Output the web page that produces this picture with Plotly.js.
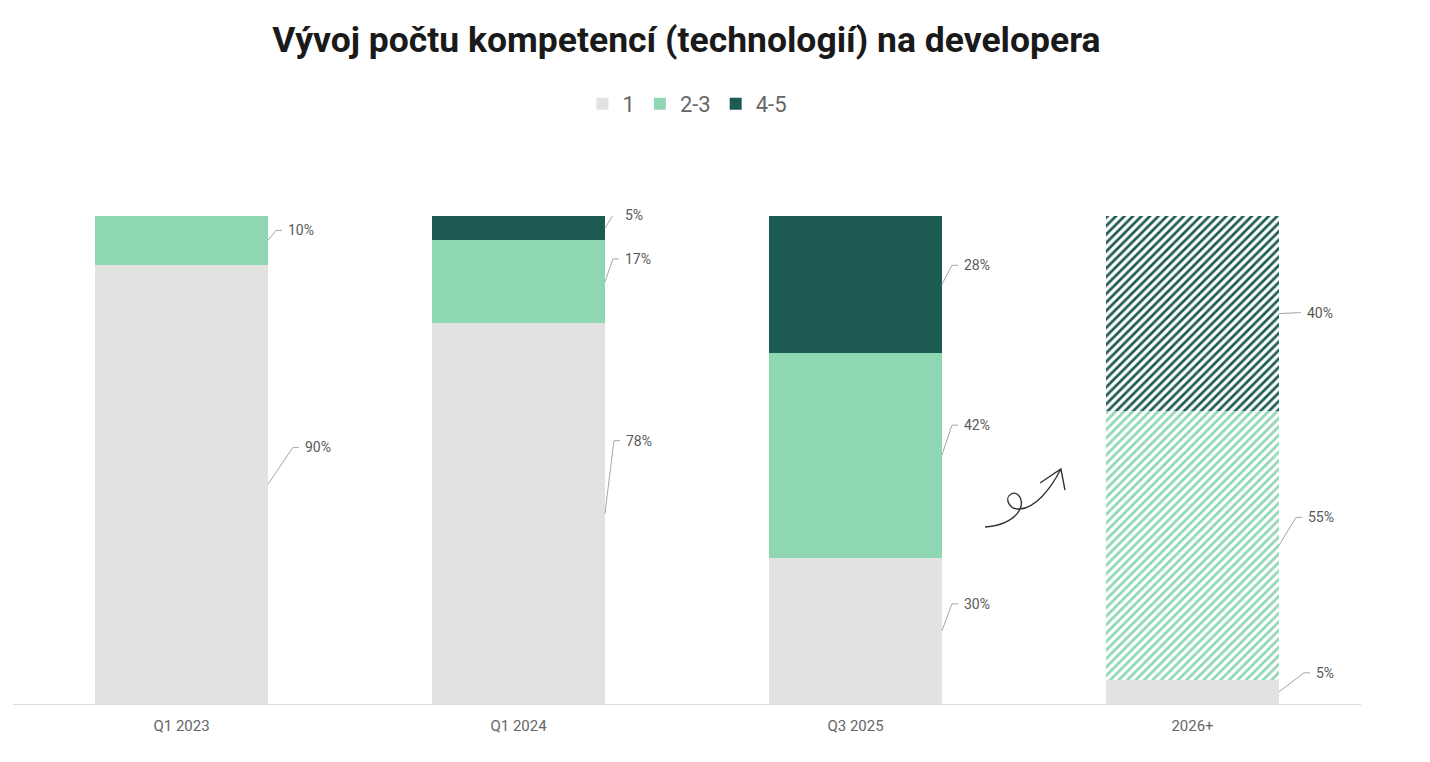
<!DOCTYPE html>
<html>
<head>
<meta charset="utf-8">
<script src="https://cdn.plot.ly/plotly-3.0.1.min.js"></script>
<style>
  html, body { margin: 0; padding: 0; background: #fff; }
  #chart { width: 1430px; height: 762px; }
</style>
</head>
<body>
<div id="chart"></div>
<script>
// data (share of developers, %)
var categories = ['Q1 2023', 'Q1 2024', 'Q3 2025', '2026+'];
var seriesNames = ['1', '2-3', '4-5'];
var oneTech = [90, 78, 30, 5];
var twoThreeTech = [10, 17, 42, 55];
var fourFiveTech = [null, 5, 28, 40];
var isForecast = [false, false, false, true];

var series = [oneTech, twoThreeTech, fourFiveTech];
var colors = ['#e2e2e0', '#8fd6b3', '#1d5a52'];

// label placement (pixels): how far the label sits above the segment middle,
// and how far the leader runs out sideways before turning flat
var labelLift = [[37, 73, 27, 19], [10, 23, 30, 28], [0, 13, 19, 1]];
var leaderRun = [[25, 9, 10, 25], [8, 8, 10, 17], [0, 8, 10, 16]];

var W = 1430, H = 762;
var margin = { l: 13, r: 69, t: 216, b: 58 };
var plotW = W - margin.l - margin.r;
var plotH = H - margin.t - margin.b;
var xRange = [-0.5, 3.5];
var yMax = 100;
var barWidth = 0.513;
var pxX = plotW / (xRange[1] - xRange[0]);   // pixels per category
var pxY = plotH / yMax;                      // pixels per percent

var traces = [];
series.forEach(function (vals, s) {
  traces.push({
    type: 'bar',
    name: seriesNames[s],
    x: categories.map(function (c, i) { return i; }),
    y: vals,
    width: barWidth,
    marker: {
      color: colors[s],
      line: { width: 0 },
      pattern: {
        shape: isForecast.map(function (f) { return (f && s > 0) ? '/' : ''; }),
        size: 6,
        solidity: 0.45
      }
    },
    hoverinfo: 'skip'
  });
});

// leader lines + labels
var lx = [], ly = [];
var annotations = [];
categories.forEach(function (c, i) {
  var base = 0;
  series.forEach(function (vals, s) {
    var v = vals[i];
    if (v == null) return;
    var mid = base + v / 2;
    base += v;
    var edge = i + barWidth / 2;
    var labelY = mid + labelLift[s][i] / pxY;
    var bend = edge + leaderRun[s][i] / pxX;
    var end = bend + 6 / pxX;
    lx.push(edge, bend, end, null);
    ly.push(mid, labelY, labelY, null);
    // paper coords so labels just above the top are not dropped
    annotations.push({
      x: (end + 4 / pxX - xRange[0]) / (xRange[1] - xRange[0]),
      y: labelY / yMax,
      xref: 'paper', yref: 'paper',
      text: v + '%', showarrow: false,
      xanchor: 'left', yanchor: 'middle',
      font: { family: 'Roboto', size: 14, color: '#595959' }
    });
  });
});

traces.push({
  type: 'scatter', mode: 'lines', x: lx, y: ly,
  line: { color: '#a6a6a6', width: 1 },
  showlegend: false, hoverinfo: 'skip', cliponaxis: false
});

// hand-drawn style arrow between the last two bars (pixel points -> paper)
function px(x, y) {
  return ((x - margin.l) / plotW).toFixed(4) + ',' + ((H - margin.b - y) / plotH).toFixed(4);
}
var doodle = 'M' + px(985, 527) +
  ' C' + px(1003, 526) + ' ' + px(1018, 518) + ' ' + px(1021, 506) +
  ' C' + px(1023, 497) + ' ' + px(1016, 491) + ' ' + px(1011, 494) +
  ' C' + px(1004, 498) + ' ' + px(1009, 510) + ' ' + px(1020, 509) +
  ' C' + px(1035, 508) + ' ' + px(1050, 490) + ' ' + px(1061, 469) +
  ' M' + px(1040, 483) + ' L' + px(1061, 469) + ' L' + px(1065, 490);

var layout = {
  width: W, height: H,
  margin: margin,
  paper_bgcolor: '#fff', plot_bgcolor: '#fff',
  barmode: 'stack',
  hovermode: false,
  title: {
    text: '<b>Vývoj počtu kompetencí (technologií) na developera</b>',
    x: 0.48, xanchor: 'center',
    y: 1 - 40 / H, yref: 'container', yanchor: 'middle',
    font: { family: 'Roboto', size: 35.5, color: '#1a1a1a' }
  },
  legend: {
    orientation: 'h',
    x: 0.5, xanchor: 'center',
    y: (H - margin.b - 104) / plotH, yanchor: 'middle',
    font: { family: 'Roboto', size: 22, color: '#666' },
    itemwidth: 30,
    traceorder: 'normal'
  },
  xaxis: {
    range: xRange,
    tickvals: categories.map(function (c, i) { return i; }),
    ticktext: categories,
    showgrid: false, zeroline: false,
    showline: true, linecolor: '#d9d9d9', linewidth: 1,
    ticks: '',
    ticklabelstandoff: 8,
    tickfont: { family: 'Roboto', size: 15, color: '#666' },
    fixedrange: true
  },
  yaxis: {
    range: [0, yMax],
    visible: false,
    fixedrange: true
  },
  annotations: annotations,
  shapes: [{
    type: 'path', xref: 'paper', yref: 'paper',
    path: doodle,
    line: { color: '#333', width: 1.4 }
  }]
};

Plotly.newPlot('chart', traces, layout, { displayModeBar: false, staticPlot: true });
</script>
</body>
</html>
